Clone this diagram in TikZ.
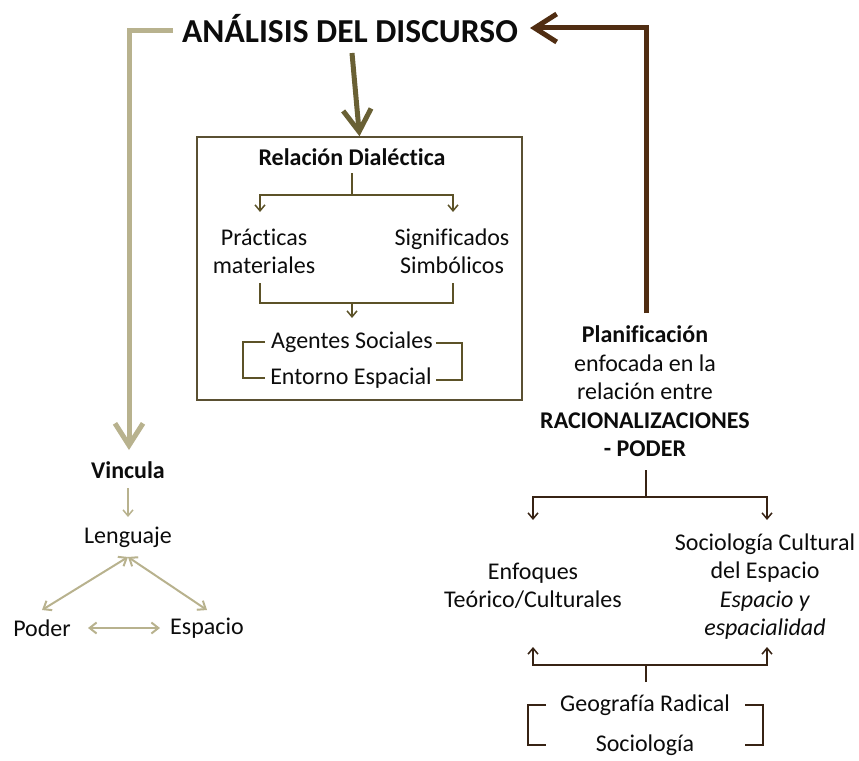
\documentclass[tikz,border=0pt]{standalone}
\usepackage{fontspec}
\setmainfont{Carlito}[Ligatures=NoCommon]
\usetikzlibrary{arrows.meta}
\definecolor{beige}{RGB}{184,178,142}
\definecolor{olivec}{RGB}{105,96,52}
\definecolor{boxc}{RGB}{90,80,50}
\definecolor{innerc}{RGB}{92,82,40}
\definecolor{brownc}{RGB}{80,45,18}
\definecolor{dbrown}{RGB}{55,35,20}
\definecolor{txtc}{RGB}{12,12,12}
\begin{document}
\begin{tikzpicture}[x=1pt,y=-1pt,
  lbl/.style={inner sep=0pt, text=txtc, font=\fontsize{24}{28.5}\selectfont, align=center},
  bigarrow/.style={line width=5pt, -{Straight Barb[length=22pt,width=28pt]}},
  thin/.style={line width=1.5pt},
  thinarrow/.style={line width=1.5pt, -{Straight Barb[length=6pt,width=10pt]}},
  dblarrow/.style={line width=2pt, {Straight Barb[length=7pt,width=11pt]}-{Straight Barb[length=7pt,width=11pt]}}
]
\useasboundingbox (0,0) rectangle (859,760);

% title
\node[lbl, font=\fontsize{33.5}{38}\selectfont\bfseries] (title) at (350,29) {ANÁLISIS DEL DISCURSO};

% box
\node[draw=boxc, line width=1.5pt, minimum width=325pt, minimum height=263pt, inner sep=0pt] (box) at (359.5,268.5) {};

% inside box
\node[lbl, font=\fontsize{24}{28.5}\selectfont\bfseries] (rel) at (352,157) {Relación Dialéctica};
\node[lbl] (prac) at (264,251.5) {Prácticas\\materiales};
\node[lbl] (sig) at (452,251.5) {Significados\\Simbólicos};
\node[lbl] (ag) at (352,342) {Agentes Sociales};
\node[lbl] (ent) at (351,378) {Entorno Espacial};

\coordinate (r1) at (352,173);
\coordinate (r2) at (352,195);
\coordinate (pl) at (260,212);
\coordinate (sl) at (453,212);
\draw[innerc, thin] (r1) -- (r2);
\draw[innerc, thinarrow] (r2) -| (pl);
\draw[innerc, thinarrow] (r2) -| (sl);
\coordinate (pb) at (260,283);
\coordinate (sb) at (453,283);
\coordinate (mb) at (352,303);
\coordinate (ab) at (352,318);
\draw[innerc, thin] (pb) |- (mb) -| (sb);
\draw[innerc, thinarrow] (mb) -- (ab);
% brackets
\coordinate (lb1) at (265,342);
\coordinate (lb2) at (265,378);
\coordinate (rb1) at (436,343);
\coordinate (rb2) at (436,380);
\draw[innerc, thin] (lb1) -- ++(-22,0) -- ++(0,36) -- (lb2);
\draw[innerc, thin] (rb1) -- ++(26,0) -- ++(0,37) -- (rb2);

% big arrows from title
\coordinate (t1) at (352,53);
\draw[olivec, bigarrow] (t1) -- (box.north);
\coordinate (a1) at (173,31);
\coordinate (a2) at (129,450);
\draw[beige, bigarrow] (a1) -| (a2);

% left part
\node[lbl, font=\fontsize{24}{28.5}\selectfont\bfseries] (vinc) at (128,470) {Vincula};
\node[lbl] (len) at (128,537) {Lenguaje};
\node[lbl] (pod) at (42,628) {Poder};
\node[lbl] (esp) at (207,628) {Espacio};
\coordinate (v1) at (128,488);
\coordinate (v2) at (128,517);
\draw[beige, thinarrow] (v1) -- (v2);
\coordinate (l1) at (128,557);
\coordinate (pt) at (42,610);
\coordinate (et) at (207,610);
\draw[beige, dblarrow] (l1) -- (pt);
\draw[beige, dblarrow] (l1) -- (et);
\coordinate (pe1) at (88,628);
\coordinate (pe2) at (160,628);
\draw[beige, dblarrow] (pe1) -- (pe2);

% right part
\node[lbl] (plan) at (645,391.5) {\textbf{Planificación}\\enfocada en la\\relación entre\\\textbf{RACIONALIZACIONES}\\\textbf{- PODER}};
\coordinate (b1) at (646,313);
\coordinate (b2) at (530,28);
\draw[brownc, bigarrow] (b1) |- (b2);

\node[lbl] (enf) at (533,586) {Enfoques\\Teórico/Culturales};
\node[lbl] (soc) at (765,586.5) {Sociología Cultural\\del Espacio\\\textit{Espacio y}\\\textit{espacialidad}};
\node[lbl] (geo) at (645,705) {Geografía Radical};
\node[lbl] (soci) at (645,745) {Sociología};

\coordinate (p1) at (646,470);
\coordinate (p2) at (646,497);
\coordinate (e1) at (533,520);
\coordinate (s1) at (767,520);
\draw[dbrown, thin] (p1) -- (p2);
\draw[dbrown, thinarrow] (p2) -| (e1);
\draw[dbrown, thinarrow] (p2) -| (s1);
\coordinate (g1) at (646,682);
\coordinate (g2) at (646,665);
\coordinate (e2) at (533,647);
\coordinate (s2) at (767,647);
\draw[dbrown, thin] (g1) -- (g2);
\draw[dbrown, thinarrow] (g2) -| (e2);
\draw[dbrown, thinarrow] (g2) -| (s2);
\coordinate (gl1) at (546,705);
\coordinate (gl2) at (546,745);
\coordinate (gr1) at (745,705);
\coordinate (gr2) at (745,745);
\draw[dbrown, thin] (gl1) -- ++(-18,0) -- ++(0,40) -- (gl2);
\draw[dbrown, thin] (gr1) -- ++(18,0) -- ++(0,40) -- (gr2);
\end{tikzpicture}
\end{document}
